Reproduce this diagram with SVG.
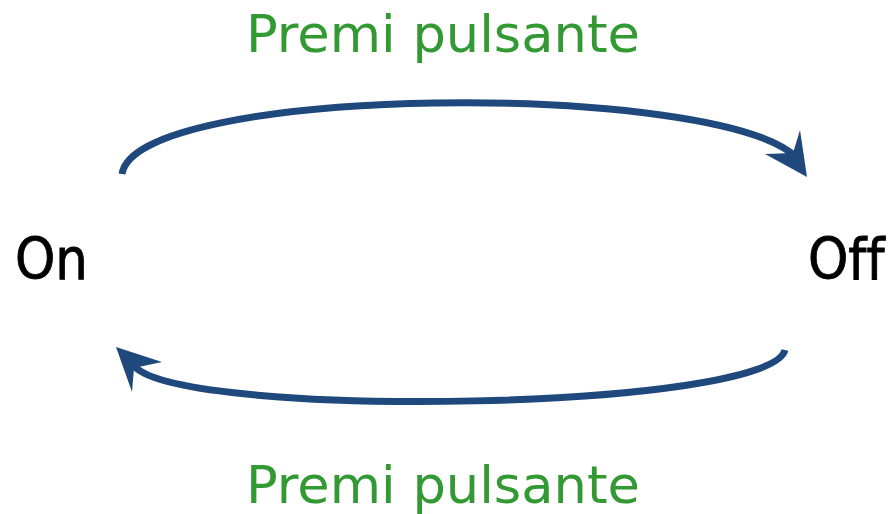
<svg xmlns="http://www.w3.org/2000/svg" width="892" height="514" viewBox="0 0 892 514">
  <style>
    .state { font-family: "DejaVu Sans Condensed", "DejaVu Sans", sans-serif; font-size: 57px; fill: #000; stroke: #000; stroke-width: 0.8; font-variant-ligatures: none; }
    .label { font-family: "DejaVu Sans", "Liberation Sans", sans-serif; font-size: 52px; fill: #339933; text-anchor: middle; }
    .edge { fill: none; stroke: #1f497d; stroke-width: 7; }
    .head { fill: #1f497d; }
  </style>
  <rect width="892" height="514" fill="#fff"/>
  <g id="connectors">
    <g id="on-to-off">
      <path class="edge" d="M122,174 C135,84 720,80 797,158"/>
      <polygon class="head" points="807,177 800,130 793,153 765,154"/>
    </g>
    <g id="off-to-on">
      <path class="edge" d="M785,350 C770,410 190,420 135,367"/>
      <polygon class="head" points="116,347 132,392 134,368 162,362"/>
    </g>
  </g>
  <g id="node-on"><text class="state" x="15" y="279">On</text></g>
  <g id="node-off"><text class="state" x="808" y="279">Off</text></g>
  <g id="label-top"><text class="label" x="443" y="52" textLength="394" lengthAdjust="spacingAndGlyphs">Premi pulsante</text></g>
  <g id="label-bottom"><text class="label" x="443" y="503" textLength="394" lengthAdjust="spacingAndGlyphs">Premi pulsante</text></g>
</svg>
